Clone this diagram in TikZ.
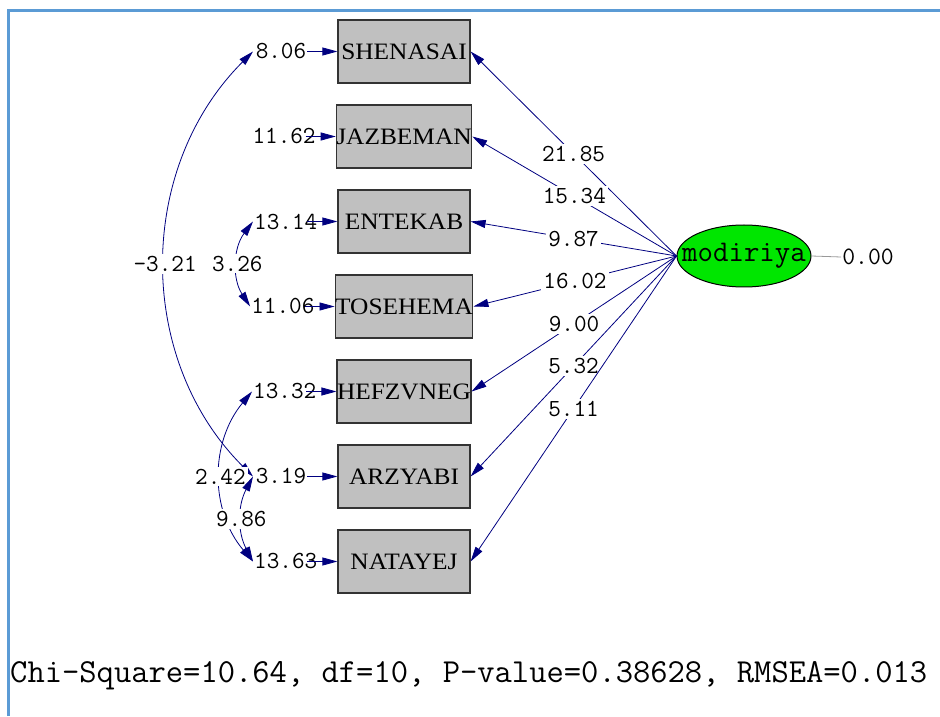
\documentclass[tikz,border=0pt]{standalone}
\usepackage{fontspec}
\usepackage{tikz}
\usetikzlibrary{positioning}
\usetikzlibrary{arrows.meta}
\usetikzlibrary{shapes.geometric}
\newfontfamily\lisserif[FakeStretch=1.08]{Liberation Serif}
\definecolor{navyline}{RGB}{0,0,128}
\definecolor{framblue}{RGB}{91,155,213}
\definecolor{latgreen}{RGB}{0,230,0}
\definecolor{boxgray}{RGB}{192,192,192}
\tikzset{>={Triangle[length=15pt,width=8pt]}}
\tikzset{
  obsbox/.style={draw=black!80, line width=1.2pt, fill=boxgray, minimum width=132pt, minimum height=63pt, inner sep=0pt, font=\lisserif\fontsize{23.5}{23.5}\selectfont},
  latent/.style={ellipse, draw=black, line width=1pt, fill=latgreen, minimum width=134pt, minimum height=62pt, inner xsep=-17pt, inner ysep=0pt, font=\ttfamily\fontsize{30}{30}\selectfont},
  errnum/.style={text width=52pt, align=right, inner sep=1pt, font=\ttfamily\fontsize{24.5}{24.5}\selectfont},
  coef/.style={fill=white, inner sep=2pt, font=\ttfamily\fontsize{24.5}{24.5}\selectfont},
  path/.style={draw=navyline, line width=0.8pt, ->},
  cov/.style={draw=navyline, line width=0.8pt, <->}
}

\begin{document}
\begin{tikzpicture}[x=1pt, y=1pt, node distance=20.8pt]
\useasboundingbox (0,0) rectangle (940,716);
\draw [framblue, line width=3pt] (8,0) -- (8,705) -- (940,705);

\node (SHENASAI) [obsbox] at (404,664.5) {SHENASAI};
\node (JAZBEMAN) [obsbox, below=of SHENASAI] {JAZBEMAN};
\node (ENTEKAB) [obsbox, below=of JAZBEMAN] {ENTEKAB};
\node (TOSEHEMA) [obsbox, below=of ENTEKAB] {TOSEHEMA};
\node (HEFZVNEG) [obsbox, below=of TOSEHEMA] {HEFZVNEG};
\node (ARZYABI) [obsbox, below=of HEFZVNEG] {ARZYABI};
\node (NATAYEJ) [obsbox, below=of ARZYABI] {NATAYEJ};

\node (modiriya) [latent] at (744,460) {modiriya};
\node (zero) [font=\ttfamily\fontsize{25}{25}\selectfont, inner sep=1pt] at (868,459) {0.00};

% error variances
\node (eSHENASAI) [errnum, left=30pt of SHENASAI] {8.06};
\node (eJAZBEMAN) [errnum, left=30pt of JAZBEMAN] {11.62};
\node (eENTEKAB) [errnum, left=30pt of ENTEKAB] {13.14};
\node (eTOSEHEMA) [errnum, left=30pt of TOSEHEMA] {11.06};
\node (eHEFZVNEG) [errnum, left=30pt of HEFZVNEG] {13.32};
\node (eARZYABI) [errnum, left=30pt of ARZYABI] {3.19};
\node (eNATAYEJ) [errnum, left=30pt of NATAYEJ] {13.63};

\path [path] (eSHENASAI) -- (SHENASAI);
\path [path] (eJAZBEMAN) -- (JAZBEMAN);
\path [path] (eENTEKAB) -- (ENTEKAB);
\path [path] (eTOSEHEMA) -- (TOSEHEMA);
\path [path] (eHEFZVNEG) -- (HEFZVNEG);
\path [path] (eARZYABI) -- (ARZYABI);
\path [path] (eNATAYEJ) -- (NATAYEJ);

% loadings
\path [path] (modiriya.west) -- node [coef] {21.85} (SHENASAI.east);
\path [path] (modiriya.west) -- node [coef] {15.34} (JAZBEMAN.east);
\path [path] (modiriya.west) -- node [coef] {9.87} (ENTEKAB.east);
\path [path] (modiriya.west) -- node [coef] {16.02} (TOSEHEMA.east);
\path [path] (modiriya.west) -- node [coef] {9.00} (HEFZVNEG.east);
\path [path] (modiriya.west) -- node [coef] {5.32} (ARZYABI.east);
\path [path] (modiriya.west) -- node [coef] {5.11} (NATAYEJ.east);
\draw [black!40, line width=0.8pt] (modiriya.east) -- (zero.west);

% error covariances
\path [cov] (eSHENASAI.west) to [bend right=45] node [coef] {-3.21} (eARZYABI.west);
\path [cov] (eENTEKAB.west) to [bend right=35] node [coef] {3.26} (eTOSEHEMA.west);
\path [cov] (eHEFZVNEG.west) to [bend right=40] node [coef] {2.42} (eNATAYEJ.west);
\path [cov] (eARZYABI.west) to [bend right=28] node [coef] {9.86} (eNATAYEJ.west);

\node (fit) [anchor=west, inner sep=0pt, font=\ttfamily\fontsize{33.6}{33.6}\selectfont] at (10,40) {Chi-Square=10.64, df=10, P-value=0.38628, RMSEA=0.013};
\end{tikzpicture}
\end{document}
